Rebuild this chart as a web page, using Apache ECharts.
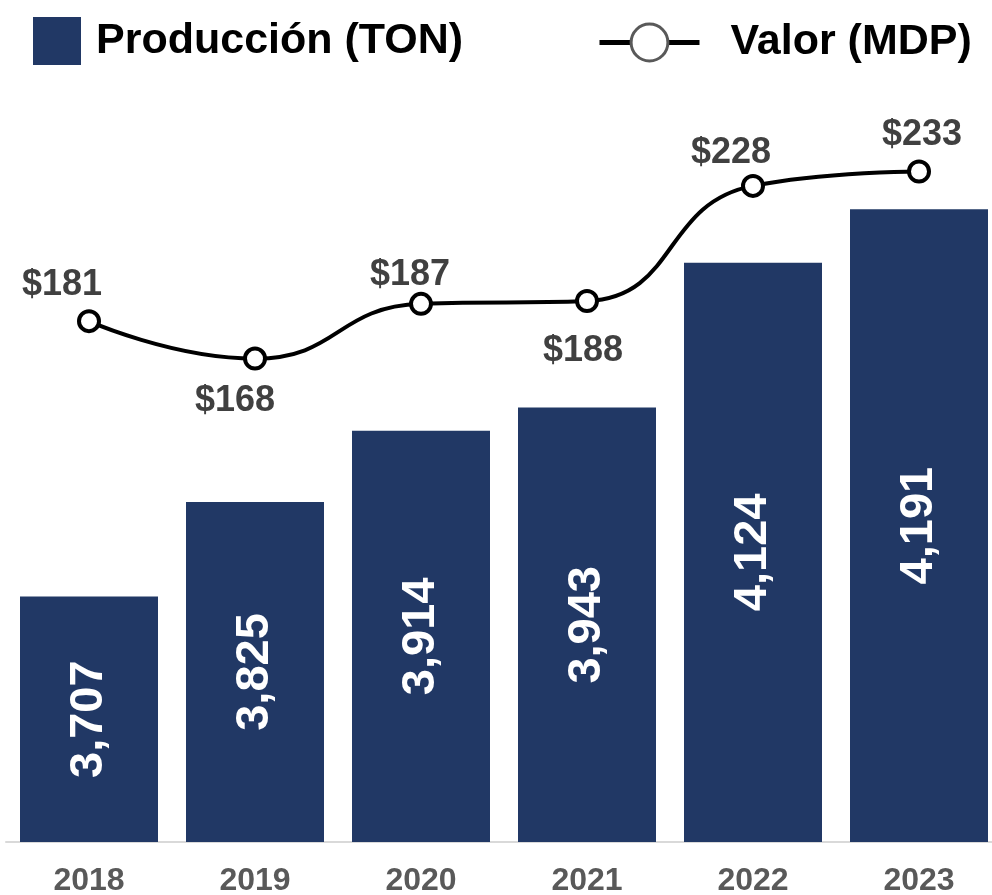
<!DOCTYPE html>
<html>
<head>
<meta charset="utf-8">
<script src="https://cdn.jsdelivr.net/npm/echarts@6/dist/echarts.min.js"></script>
<style>
  html, body { margin: 0; padding: 0; background: #fff; }
  #chart { width: 992px; height: 895px; }
</style>
</head>
<body>
<div id="chart"></div>
<script>
const years = ['2018', '2019', '2020', '2021', '2022', '2023'];
const produccion = [3707, 3825, 3914, 3943, 4124, 4191];
const valor = [181, 168, 187, 188, 228, 233];
// points whose value label sits under the marker
const labelBelow = [1, 3];
// hand placement of the value labels, as in the original [dx, dy]
const labelNudge = [[-27, 2], [-20, 5], [-11, 9], [-4, 12], [-22, 5], [3, 2]];

(() => {
  const myChart = echarts.init(document.getElementById('chart'), null, { renderer: 'canvas' });
  const font = 'Liberation Sans, Arial, sans-serif';
  const navy = '#213865';

  const option = {
    animation: false,
    textStyle: { fontFamily: font },
    legend: [{
      data: [{ name: 'Producción (TON)', icon: 'rect' }],
      left: 28,
      top: 12,
      itemWidth: 48,
      itemHeight: 48,
      textStyle: { fontSize: 43, fontWeight: 'bold', color: '#000', fontFamily: font, padding: [0, 0, 0, 10] }
    }, {
      data: ['Valor (MDP)'],
      left: 592,
      top: 16,
      itemWidth: 100,
      itemHeight: 46,
      itemStyle: { color: '#fff', borderColor: '#595959', borderWidth: 3 },
      lineStyle: { color: '#000', width: 5 },
      textStyle: { fontSize: 43, fontWeight: 'bold', color: '#000', fontFamily: font, padding: [0, 0, 0, 26] }
    }],
    grid: {
      left: 6,
      top: 42,
      width: 996,
      height: 800,
      outerBoundsMode: 'none',
      containLabel: false
    },
    xAxis: {
      type: 'category',
      data: years,
      axisTick: { show: false },
      axisLine: { lineStyle: { color: '#d9d9d9', width: 2 } },
      axisLabel: { color: '#595959', fontSize: 32, fontWeight: 'bold', margin: 23, fontFamily: font }
    },
    yAxis: [{
      type: 'value',
      min: 3400,
      max: 4400,
      show: false
    }, {
      type: 'value',
      min: 0,
      max: 278,
      show: false
    }],
    series: [{
      name: 'Producción (TON)',
      type: 'bar',
      data: produccion,
      barWidth: 138,
      itemStyle: { color: navy },
      label: {
        show: true,
        position: 'inside',
        rotate: 90,
        color: '#fff',
        fontSize: 47,
        fontWeight: 'bold',
        fontFamily: font,
        formatter: p => p.value.toLocaleString('en-US')
      }
    }, {
      name: 'Valor (MDP)',
      type: 'line',
      yAxisIndex: 1,
      smooth: true,
      data: valor.map((v, i) => ({
        value: v,
        label: {
          position: labelBelow.includes(i) ? 'bottom' : 'top',
          offset: labelNudge[i]
        }
      })),
      symbol: 'circle',
      symbolSize: 20,
      lineStyle: { color: '#000', width: 4 },
      itemStyle: { color: '#fff', borderColor: '#000', borderWidth: 4 },
      label: {
        show: true,
        distance: 8,
        color: '#404040',
        fontSize: 36,
        fontWeight: 'bold',
        fontFamily: font,
        formatter: p => '$' + p.value
      }
    }]
  };

  myChart.setOption(option);
})();
</script>
</body>
</html>
